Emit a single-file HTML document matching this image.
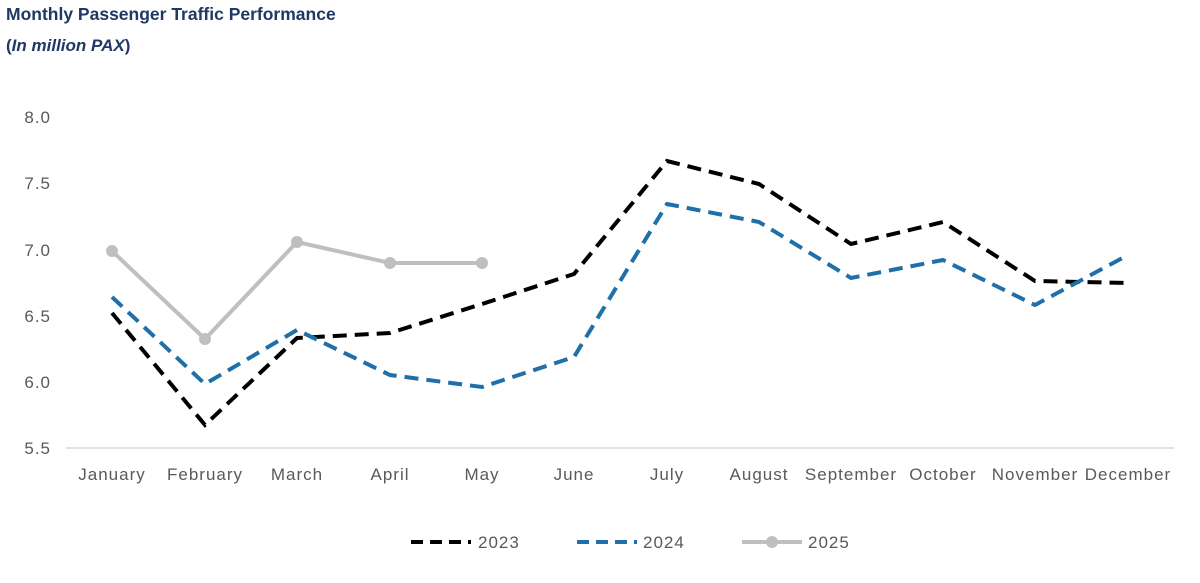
<!DOCTYPE html>
<html><head><meta charset="utf-8"><style>
body{margin:0;background:#fff;width:1200px;height:578px;overflow:hidden;font-family:"Liberation Sans",sans-serif}
</style></head><body>
<svg width="1200" height="578" xmlns="http://www.w3.org/2000/svg" font-family="Liberation Sans, sans-serif">
<text x="6" y="20" font-size="17.5" font-weight="bold" fill="#1f3864">Monthly Passenger Traffic Performance</text>
<text x="6" y="51" font-size="17" font-weight="bold" fill="#1f3864">(<tspan font-style="italic">In million PAX</tspan>)</text>
<g font-size="17" fill="#595959" text-anchor="end" letter-spacing="1">
<text x="51" y="123">8.0</text><text x="51" y="189">7.5</text><text x="51" y="256">7.0</text>
<text x="51" y="322">6.5</text><text x="51" y="388">6.0</text><text x="51" y="454">5.5</text>
</g>
<line x1="66" y1="448" x2="1174" y2="448" stroke="#d9d9d9" stroke-width="1.5"/>
<g font-size="17" fill="#595959" text-anchor="middle" letter-spacing="1">
<text x="112" y="480">January</text><text x="205" y="480">February</text><text x="297" y="480">March</text>
<text x="390" y="480">April</text><text x="482" y="480">May</text><text x="574" y="480">June</text>
<text x="667" y="480">July</text><text x="759" y="480">August</text><text x="851" y="480">September</text>
<text x="943" y="480">October</text><text x="1035" y="480">November</text><text x="1128" y="480">December</text>
</g>
<polyline fill="none" stroke="#000" stroke-width="4" stroke-dasharray="14,8" points="112,313 205,425 297,338 390,333 482,304 574,274 667,161 759,184 851,244 943,222 1035,281 1128,283"/>
<polyline fill="none" stroke="#1f6fa8" stroke-width="4" stroke-dasharray="14,8" points="112,297 205,384 297,330 390,375 482,387 574,357 667,204 759,222 851,278 943,260 1035,305 1128,255"/>
<polyline fill="none" stroke="#bfbfbf" stroke-width="4" points="112,251 205,339 297,242 390,263 482,263"/>
<g fill="#bfbfbf"><circle cx="112" cy="251" r="6"/><circle cx="205" cy="339" r="6"/><circle cx="297" cy="242" r="6"/><circle cx="390" cy="263" r="6"/><circle cx="482" cy="263" r="6"/></g>
<line x1="411" y1="542" x2="471" y2="542" stroke="#000" stroke-width="4" stroke-dasharray="12,7"/>
<text x="478" y="548" font-size="17" letter-spacing="1" fill="#595959">2023</text>
<line x1="577" y1="542" x2="637" y2="542" stroke="#1f6fa8" stroke-width="4" stroke-dasharray="12,7"/>
<text x="643" y="548" font-size="17" letter-spacing="1" fill="#595959">2024</text>
<line x1="742" y1="542" x2="802" y2="542" stroke="#bfbfbf" stroke-width="4"/>
<circle cx="772" cy="542" r="6" fill="#bfbfbf"/>
<text x="808" y="548" font-size="17" letter-spacing="1" fill="#595959">2025</text>
</svg>
</body></html>
